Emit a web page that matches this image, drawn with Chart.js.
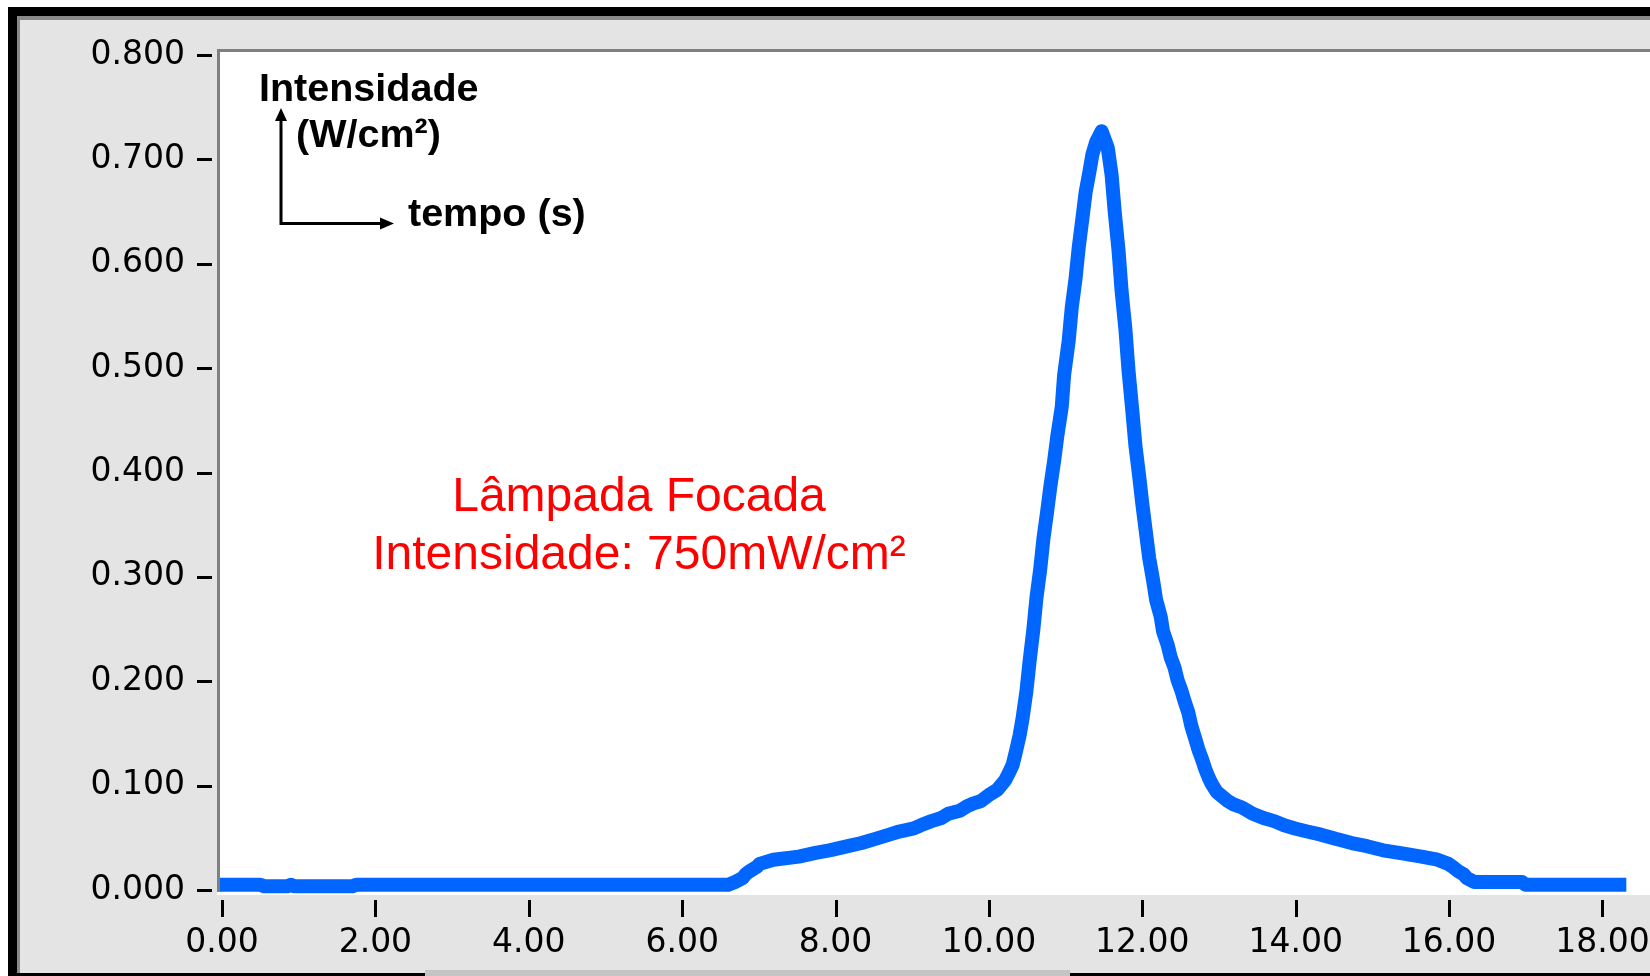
<!DOCTYPE html>
<html><head><meta charset="utf-8">
<script src="https://cdn.jsdelivr.net/npm/chart.js@4.4.1/dist/chart.umd.min.js"></script>
<style>html,body{margin:0;padding:0;background:#fff;overflow:hidden}canvas{display:block}</style>
</head><body>
<canvas id="c" width="1650" height="976"></canvas>
<script>
// ---- data ----
const timeS = [
  0.00, 0.50, 0.55, 0.85, 0.90, 0.94, 1.70, 1.75, 3.00, 4.50, 6.00, 6.60,
  6.69, 6.79, 6.83, 6.88, 6.97, 7.01, 7.19, 7.52, 7.74, 7.92, 8.16, 8.34,
  8.52, 8.70, 8.83, 9.02, 9.11, 9.25, 9.38, 9.47, 9.62, 9.71, 9.80, 9.89,
  10.02, 10.11, 10.21, 10.26, 10.31, 10.35, 10.40, 10.44, 10.49, 10.53, 10.58, 10.62,
  10.67, 10.71, 10.76, 10.80, 10.85, 10.89, 10.95, 10.98, 11.04, 11.08, 11.13, 11.17,
  11.22, 11.26, 11.31, 11.35, 11.40, 11.47, 11.55, 11.60, 11.64, 11.69, 11.73, 11.78,
  11.82, 11.87, 11.91, 11.96, 12.00, 12.05, 12.09, 12.14, 12.18, 12.24, 12.27, 12.33,
  12.37, 12.42, 12.46, 12.51, 12.55, 12.60, 12.64, 12.69, 12.73, 12.78, 12.82, 12.87,
  12.91, 12.97, 13.10, 13.19, 13.30, 13.44, 13.58, 13.72, 13.85, 13.99, 14.15, 14.33,
  14.52, 14.73, 14.93, 15.14, 15.39, 15.64, 15.85, 15.99, 16.05, 16.12, 16.19, 16.23,
  16.33, 16.95, 17.00, 18.22
];
const intensity = [
  0.005, 0.005, 0.0035, 0.0035, 0.005, 0.0035, 0.0035, 0.005, 0.005, 0.005, 0.005, 0.005,
  0.0077, 0.0115, 0.0153, 0.018, 0.022, 0.025, 0.029, 0.032, 0.0355, 0.038, 0.042, 0.045,
  0.049, 0.053, 0.056, 0.059, 0.062, 0.066, 0.069, 0.073, 0.076, 0.080, 0.083, 0.085,
  0.092, 0.096, 0.105, 0.112, 0.120, 0.132, 0.148, 0.165, 0.191, 0.219, 0.250, 0.280,
  0.308, 0.336, 0.363, 0.386, 0.411, 0.434, 0.463, 0.493, 0.526, 0.558, 0.586, 0.615,
  0.644, 0.668, 0.688, 0.705, 0.717, 0.727, 0.711, 0.685, 0.650, 0.613, 0.574, 0.537,
  0.498, 0.459, 0.426, 0.396, 0.370, 0.341, 0.318, 0.297, 0.278, 0.262, 0.248, 0.235,
  0.223, 0.213, 0.201, 0.191, 0.181, 0.170, 0.157, 0.145, 0.135, 0.125, 0.116, 0.107,
  0.101, 0.094, 0.086, 0.082, 0.079, 0.073, 0.069, 0.066, 0.062, 0.059, 0.056, 0.053,
  0.049, 0.045, 0.042, 0.038, 0.035, 0.032, 0.029, 0.025, 0.022, 0.018, 0.015, 0.0115,
  0.0077, 0.0077, 0.005, 0.005
];
const xTickValues = [0, 2, 4, 6, 8, 10, 12, 14, 16, 18];
const yTickValues = [0, 0.1, 0.2, 0.3, 0.4, 0.5, 0.6, 0.7, 0.8];
const xRange = [-0.026, 18.62];
const yRange = [-0.0048, 0.8029];
const axisNoteY = ['Intensidade', '(W/cm²)'];
const axisNoteX = 'tempo (s)';
const noteLines = ['Lâmpada Focada', 'Intensidade: 750mW/cm²'];

// ---- chart ----
const points = timeS.map((t, i) => ({ x: t, y: intensity[i] }));

const framePlugin = {
  id: 'frame',
  beforeDraw(chart) {
    const ctx = chart.ctx, a = chart.chartArea, W = chart.width, H = chart.height;
    ctx.save();
    ctx.fillStyle = '#ffffff'; ctx.fillRect(0, 0, W, H);
    ctx.fillStyle = '#000000'; ctx.fillRect(8, 7, W - 8, H - 7);
    ctx.fillStyle = '#8a8a8a'; ctx.fillRect(17, 16, W - 17, H - 3 - 16);
    ctx.fillStyle = '#e4e4e4'; ctx.fillRect(20, 20, W - 20, H - 3 - 20);
    ctx.fillStyle = '#c4c4c4'; ctx.fillRect(425, 970, 645, 6);
    ctx.fillStyle = '#808080'; ctx.fillRect(a.left - 3, a.top - 3, W - (a.left - 3), a.bottom - a.top);
    ctx.fillStyle = '#ffffff'; ctx.fillRect(a.left, a.top, W - a.left, a.bottom - a.top);
    ctx.fillRect(a.left - 3, a.bottom - 3, 3, 3);
    ctx.restore();
  },
  afterDraw(chart) {
    const ctx = chart.ctx, a = chart.chartArea;
    const xs = chart.scales.x, ys = chart.scales.y;
    ctx.save();
    ctx.fillStyle = '#000000';
    // tick marks (through the library scales)
    yTickValues.forEach(v => {
      const py = Math.round(ys.getPixelForValue(v));
      ctx.fillRect(a.left - 23, py - 1, 15, 3);
    });
    xTickValues.forEach(v => {
      const px = Math.round(xs.getPixelForValue(v));
      ctx.fillRect(px - 1, a.bottom + 5, 3, 17);
    });
    // axis sketch annotation
    ctx.strokeStyle = '#000000';
    ctx.lineWidth = 3;
    ctx.beginPath();
    ctx.moveTo(281, 225); ctx.lineTo(281, 118);
    ctx.moveTo(279.5, 223.5); ctx.lineTo(383, 223.5);
    ctx.stroke();
    ctx.beginPath();
    ctx.moveTo(281, 108); ctx.lineTo(275, 121); ctx.lineTo(287, 121); ctx.closePath();
    ctx.fill();
    ctx.beginPath();
    ctx.moveTo(394, 223.5); ctx.lineTo(380, 217.5); ctx.lineTo(380, 229.5); ctx.closePath();
    ctx.fill();
    ctx.font = 'bold 39.5px "Liberation Sans", Arial, sans-serif';
    ctx.textAlign = 'left';
    ctx.textBaseline = 'alphabetic';
    ctx.fillText(axisNoteY[0], 259, 101);
    ctx.fillText(axisNoteY[1], 296, 147);
    ctx.fillText(axisNoteX, 408, 226);
    // red note
    ctx.fillStyle = '#ff0000';
    ctx.font = '48px "Liberation Sans", Arial, sans-serif';
    ctx.textAlign = 'center';
    ctx.fillText(noteLines[0], 639, 511);
    ctx.fillText(noteLines[1], 639, 569);
    ctx.restore();
  }
};

new Chart(document.getElementById('c'), {
  type: 'line',
  data: {
    datasets: [{
      data: points,
      borderColor: '#0066ff',
      backgroundColor: '#0066ff',
      borderWidth: 14,
      pointRadius: 0,
      tension: 0,
      fill: false,
      borderJoinStyle: 'round',
      borderCapStyle: 'square',
      clip: 0
    }]
  },
  options: {
    responsive: false,
    devicePixelRatio: 1,
    animation: false,
    events: [],
    layout: { padding: { left: 0, right: 0, top: 52, bottom: 0 } },
    plugins: { legend: { display: false }, tooltip: { enabled: false }, title: { display: false } },
    scales: {
      x: {
        type: 'linear',
        position: 'bottom',
        min: xRange[0],
        max: xRange[1],
        afterBuildTicks: s => { s.ticks = xTickValues.map(v => ({ value: v })); },
        afterFit: s => { s.height = 81; s.paddingLeft = 0; s.paddingRight = 0; },
        grid: { display: false, drawTicks: false },
        border: { display: false },
        ticks: {
          autoSkip: false, maxRotation: 0, minRotation: 0,
          padding: 29,
          color: '#000000',
          font: { family: '"DejaVu Sans", sans-serif', size: 33 },
          callback: v => Number(v).toFixed(2)
        }
      },
      y: {
        type: 'linear',
        position: 'left',
        min: yRange[0],
        max: yRange[1],
        afterBuildTicks: s => { s.ticks = yTickValues.map(v => ({ value: v })); },
        afterFit: s => { s.width = 220; s.paddingTop = 0; s.paddingBottom = 0; },
        grid: { display: false, drawTicks: false },
        border: { display: false },
        ticks: {
          autoSkip: false,
          padding: 35,
          color: '#000000',
          font: { family: '"DejaVu Sans", sans-serif', size: 33 },
          callback: v => Number(v).toFixed(3)
        }
      }
    }
  },
  plugins: [framePlugin]
});
</script>
</body></html>
